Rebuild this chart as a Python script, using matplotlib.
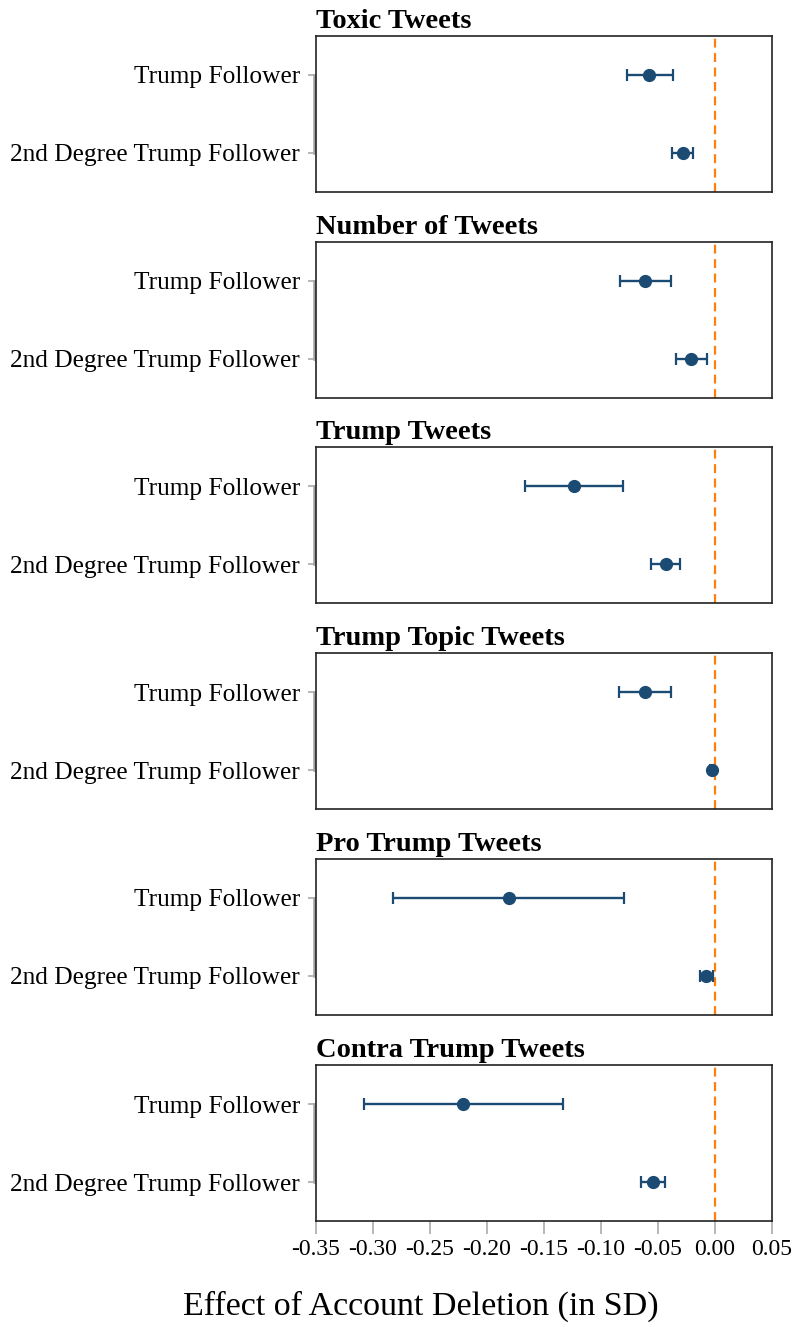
import matplotlib
matplotlib.use("Agg")
import matplotlib.pyplot as plt
from matplotlib.transforms import blended_transform_factory

# Outcome panels (top to bottom)
outcomes = ["Toxic Tweets", "Number of Tweets", "Trump Tweets",
            "Trump Topic Tweets", "Pro Trump Tweets", "Contra Trump Tweets"]
groups = ["Trump Follower", "2nd Degree Trump Follower"]

# Point estimates: [Trump Follower, 2nd Degree Trump Follower]
estimate = [
    [-0.0576, -0.0283],
    [-0.0611, -0.0210],
    [-0.1236, -0.0432],
    [-0.0611, -0.0029],
    [-0.1805, -0.0076],
    [-0.2206, -0.0546],
]
ci_low = [
    [-0.0771, -0.0374],
    [-0.0833, -0.0345],
    [-0.1665, -0.0564],
    [-0.0839, -0.0040],
    [-0.2819, -0.0131],
    [-0.3077, -0.0648],
]
ci_high = [
    [-0.0368, -0.0196],
    [-0.0388, -0.0073],
    [-0.0803, -0.0307],
    [-0.0388, -0.0018],
    [-0.0795, -0.0015],
    [-0.1329, -0.0438],
]
x_ticks = [-0.35, -0.30, -0.25, -0.20, -0.15, -0.10, -0.05, 0.00, 0.05]
x_label = "Effect of Account Deletion (in SD)"

W, H = 797, 1327
fig = plt.figure(figsize=(W / 100, H / 100), dpi=100)
plt.rcParams["font.family"] = ["Liberation Serif", "DejaVu Serif"]

point_color = "#1b4a73"
zero_color = "#ff7f0e"
left_px, right_px = 315.5, 772
panel_tops = [36, 242, 447, 653, 859, 1065]
panel_h = 156

for i, name in enumerate(outcomes):
    top = panel_tops[i]
    ax = fig.add_axes([left_px / W, 1 - (top + panel_h) / H,
                       (right_px - left_px) / W, panel_h / H])
    ys = list(range(len(groups)))
    est = estimate[i]
    lo = [e - l for e, l in zip(est, ci_low[i])]
    hi = [h - e for e, h in zip(est, ci_high[i])]
    ax.axvline(0, color=zero_color, lw=1.6, ls=(0, (4, 2.5)), zorder=1)
    ax.errorbar(est, ys, xerr=[lo, hi], fmt="o", color=point_color,
                ms=8.5, lw=1.7, capsize=4, capthick=1.6, zorder=3)
    ax.set_xlim(x_ticks[0], x_ticks[-1])
    ax.set_ylim(1.5, -0.5)
    ax.set_yticks(ys)
    ax.set_yticklabels(groups, fontsize=18.3)
    ax.tick_params(axis="y", length=6, width=1.2, color="#aaaaaa", pad=5)
    for sp in ax.spines.values():
        sp.set_color("#222222")
        sp.set_linewidth(1.2)
    trans = blended_transform_factory(ax.transAxes, ax.transData)
    ax.plot([-0.004, -0.004], [0, 1], transform=trans, color="#a0a0a0",
            lw=1.8, clip_on=False, zorder=0)
    ax.set_title(name, loc="left", fontsize=20.5, fontweight="bold", pad=6)
    if i == len(outcomes) - 1:
        ax.set_xticks(x_ticks)
        ax.set_xticklabels([f"{t:.2f}" for t in x_ticks], fontsize=17)
        ax.tick_params(axis="x", length=9, width=1.2, color="#aaaaaa", pad=4)
    else:
        ax.set_xticks([])

fig.text(421 / W, 1 - 1306 / H, x_label, ha="center", va="center", fontsize=24.5)
fig.savefig("out.png", dpi=100)
